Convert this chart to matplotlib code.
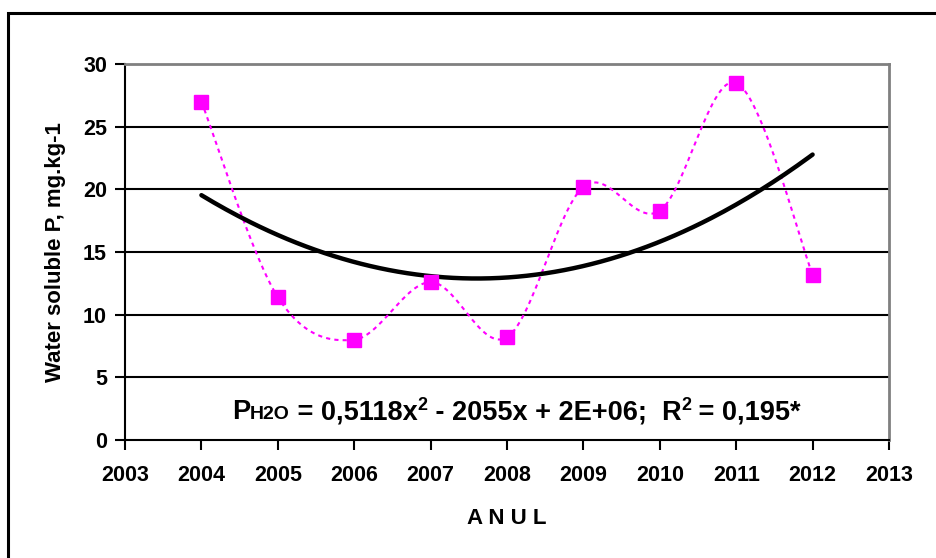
import numpy as np
import matplotlib
matplotlib.use("Agg")
import matplotlib.pyplot as plt
from matplotlib.patches import Rectangle

plt.rcParams['font.family'] = ['Liberation Sans', 'DejaVu Sans']

years = [2004, 2005, 2006, 2007, 2008, 2009, 2010, 2011, 2012]
p_h2o = [27.0, 11.4, 8.0, 12.6, 8.2, 20.2, 18.3, 28.5, 13.2]
x_ticks = list(range(2003, 2014))
y_ticks = [0, 5, 10, 15, 20, 25, 30]

W, H = 936, 558
fig = plt.figure(figsize=(W / 100, H / 100), dpi=100)

# outer chart frame (runs off right and bottom edge)
fig.patches.append(Rectangle((8 / W, -0.2), 1.2, (H - 13) / H + 0.2,
                             transform=fig.transFigure, fill=False,
                             edgecolor='black', linewidth=2.2))

ax = fig.add_axes([125 / W, (H - 440) / H, 764 / W, 376 / H])

x = np.array(years, dtype=float)
y = np.array(p_h2o)

# smoothed dotted line, Excel-style bezier through the points
pts = np.column_stack([x, y])
ext = np.vstack([pts[0], pts, pts[-1]])
t = np.linspace(0, 1, 30)[:, None]
curve = []
for i in range(1, len(ext) - 2):
    p0, p1, p2, p3 = ext[i - 1], ext[i], ext[i + 1], ext[i + 2]
    b1 = p1 + (p2 - p0) / 6
    b2 = p2 - (p3 - p1) / 6
    seg = ((1 - t) ** 3) * p1 + 3 * ((1 - t) ** 2) * t * b1 + 3 * (1 - t) * t ** 2 * b2 + t ** 3 * p2
    curve.append(seg)
curve = np.vstack(curve)
ax.plot(curve[:, 0], curve[:, 1], color='#FF00FF', linewidth=1.5,
        linestyle=(0, (2, 2)), dash_capstyle='butt', zorder=3)

# quadratic trend line
coef = np.polyfit(x - 2008, y, 2)
xf = np.linspace(2004, 2012, 200)
ax.plot(xf, np.polyval(coef, xf - 2008), color='black', linewidth=3.2,
        solid_capstyle='round', zorder=4)

ax.plot(x, y, linestyle='none', marker='s', markersize=10,
        color='#FF00FF', zorder=5)

ax.set_xlim(2003, 2013)
ax.set_ylim(0, 30)
ax.set_xticks(x_ticks)
ax.set_yticks(y_ticks)
ax.set_xticklabels([str(v) for v in x_ticks], fontsize=15.5, fontweight='bold')
ax.set_yticklabels([str(v) for v in y_ticks], fontsize=15.5, fontweight='bold')
ax.tick_params(direction='out', length=7, width=1.5, pad=6)
ax.tick_params(axis='x', pad=11)

for v in y_ticks[1:]:
    ax.axhline(v, color='black', linewidth=1.5, zorder=1)

ax.spines['left'].set_linewidth(1.5)
ax.spines['bottom'].set_linewidth(1.5)
ax.spines['top'].set_color('#808080')
ax.spines['right'].set_color('#808080')
ax.spines['top'].set_linewidth(2)
ax.spines['right'].set_linewidth(2)

ax.set_ylabel('Water soluble P, mg.kg-1', fontsize=16, fontweight='bold', labelpad=12)
ax.set_xlabel('A N U L', fontsize=16, fontweight='bold', labelpad=16)

# equation, written piece by piece
fig.canvas.draw()
renderer = fig.canvas.get_renderer()
pieces = [('P', 19.5, 0), ('H2O', 14, 0), (' = 0,5118x', 19.5, 0), ('2', 13, 9),
          (' - 2055x + 2E+06;  R', 19.5, 0), ('2', 13, 9), (' = 0,195*', 19.5, 0)]
xpos = 232
base = H - 419
for s, size, rise in pieces:
    txt = fig.text(xpos / W, (base + rise) / H, s, fontsize=size,
                   fontweight='bold', ha='left', va='baseline')
    bb = txt.get_window_extent(renderer)
    xpos += bb.width

fig.savefig('out.png', dpi=100)
